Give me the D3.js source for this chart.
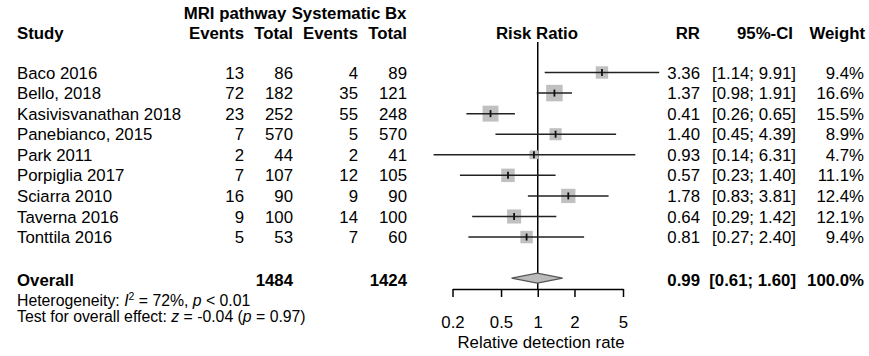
<!DOCTYPE html>
<html>
<head>
<meta charset="utf-8">
<script src="https://cdn.jsdelivr.net/npm/d3@7"></script>
<style>
  body { margin: 0; background: #fff; }
  svg { font-family: "Liberation Sans", Arial, sans-serif; }
</style>
</head>
<body>
<div id="chart"></div>
<script>
// study data
const studies   = ["Baco 2016", "Bello, 2018", "Kasivisvanathan 2018", "Panebianco, 2015", "Park 2011",
                   "Porpiglia 2017", "Sciarra 2010", "Taverna 2016", "Tonttila 2016"];
const mriEvents = [13, 72, 23, 7, 2, 7, 16, 9, 5];
const mriTotal  = [86, 182, 252, 570, 44, 107, 90, 100, 53];
const sysEvents = [4, 35, 55, 5, 2, 12, 9, 14, 7];
const sysTotal  = [89, 121, 248, 570, 41, 105, 90, 100, 60];
const rr        = [3.36, 1.37, 0.41, 1.40, 0.93, 0.57, 1.78, 0.64, 0.81];
const ciLow     = [1.14, 0.98, 0.26, 0.45, 0.14, 0.23, 0.83, 0.29, 0.27];
const ciHigh    = [9.91, 1.91, 0.65, 4.39, 6.31, 1.40, 3.81, 1.42, 2.40];
const weight    = [9.4, 16.6, 15.5, 8.9, 4.7, 11.1, 12.4, 12.1, 9.4];

// pooled result
const overall = { rr: 0.99, lo: 0.61, hi: 1.60, weight: 100.0, mriTotal: 1484, sysTotal: 1424 };
const tickValues = [0.2, 0.5, 1, 2, 5];

const W = 869, H = 356;
const fs = 16.8;
const fsSmall = 15.8;
const fmt2 = d3.format(".2f");
const fmtW = d3.format(".1f");

const svg = d3.select("#chart").append("svg")
  .attr("width", W).attr("height", H);

// scales
const x = d3.scaleLog().domain([0.2, 5]).range([452.5, 623]);
const rowY = d3.scaleLinear().domain([0, 10]).range([72.5, 278.2]); // row 10 = overall
const boxSize = d3.scaleSqrt().domain([0, 16.6]).range([0, 16.5]);

// column positions (right edges for numbers)
const col = { study: 17, mriEv: 244, mriTot: 293, sysEv: 358, sysTot: 407, rr: 700, ci: 796, w: 864 };

function txt(xp, yp, s, anchor, bold, size) {
  return svg.append("text")
    .attr("x", xp).attr("y", yp)
    .attr("dy", "0.36em")
    .attr("text-anchor", anchor || "start")
    .attr("font-weight", bold ? "bold" : "normal")
    .attr("font-size", size || fs)
    .attr("fill", "#000")
    .text(s);
}

// headers
txt(235, 13, "MRI pathway", "middle", true);
txt(349, 13, "Systematic Bx", "middle", true);
txt(col.study, 33, "Study", "start", true);
txt(col.mriEv, 33, "Events", "end", true);
txt(col.mriTot, 33, "Total", "end", true);
txt(col.sysEv, 33, "Events", "end", true);
txt(col.sysTot, 33, "Total", "end", true);
txt(537, 33, "Risk Ratio", "middle", true);
txt(col.rr, 33, "RR", "end", true);
txt(793, 33, "95%-CI", "end", true);
txt(col.w + 1, 33, "Weight", "end", true);

// study rows text
studies.forEach((s, i) => {
  const y = rowY(i);
  txt(col.study, y, s);
  txt(col.mriEv, y, mriEvents[i], "end");
  txt(col.mriTot, y, mriTotal[i], "end");
  txt(col.sysEv, y, sysEvents[i], "end");
  txt(col.sysTot, y, sysTotal[i], "end");
  txt(col.rr, y, fmt2(rr[i]), "end");
  txt(col.ci, y, `[${fmt2(ciLow[i])}; ${fmt2(ciHigh[i])}]`, "end");
  txt(col.w, y, fmtW(weight[i]) + "%", "end");
});

// overall row text
const yo = rowY(10) + 2;
txt(col.study, yo, "Overall", "start", true);
txt(col.mriTot, yo, overall.mriTotal, "end", true);
txt(col.sysTot, yo, overall.sysTotal, "end", true);
txt(col.rr, yo, fmt2(overall.rr), "end", true);
txt(col.ci, yo, `[${fmt2(overall.lo)}; ${fmt2(overall.hi)}]`, "end", true);
txt(col.w, yo, fmtW(overall.weight) + "%", "end", true);

// heterogeneity lines
const het = svg.append("text").attr("x", col.study).attr("y", 300).attr("dy", "0.36em")
  .attr("font-size", fsSmall);
het.append("tspan").text("Heterogeneity: ");
het.append("tspan").attr("font-style", "italic").text("I");
het.append("tspan").attr("font-size", 10.5).attr("dy", -6).text("2");
het.append("tspan").attr("dy", 6).text(" = 72%, ");
het.append("tspan").attr("font-style", "italic").text("p");
het.append("tspan").text(" < 0.01");

const tst = svg.append("text").attr("x", col.study).attr("y", 316).attr("dy", "0.36em")
  .attr("font-size", fsSmall);
tst.append("tspan").text("Test for overall effect: ");
tst.append("tspan").attr("font-style", "italic").text("z");
tst.append("tspan").text(" = -0.04 (");
tst.append("tspan").attr("font-style", "italic").text("p");
tst.append("tspan").text(" = 0.97)");

// reference line at 1
svg.append("line")
  .attr("x1", x(1)).attr("x2", x(1))
  .attr("y1", 42).attr("y2", 289)
  .attr("stroke", "#000").attr("stroke-width", 1.5);

const g = svg.append("g");

// weight squares (drawn under the CI lines)
g.selectAll("rect.box")
  .data(studies)
  .enter().append("rect")
  .attr("class", "box")
  .attr("x", (d, i) => x(rr[i]) - boxSize(weight[i]) / 2)
  .attr("y", (d, i) => rowY(i) - boxSize(weight[i]) / 2)
  .attr("width", (d, i) => boxSize(weight[i]))
  .attr("height", (d, i) => boxSize(weight[i]))
  .attr("fill", "#c0c0c0");

// CI lines
g.selectAll("line.ci")
  .data(studies)
  .enter().append("line")
  .attr("class", "ci")
  .attr("x1", (d, i) => x(ciLow[i]))
  .attr("x2", (d, i) => x(ciHigh[i]))
  .attr("y1", (d, i) => rowY(i))
  .attr("y2", (d, i) => rowY(i))
  .attr("stroke", "#222").attr("stroke-width", 1.5);

// point estimate ticks
g.selectAll("line.est")
  .data(studies)
  .enter().append("line")
  .attr("class", "est")
  .attr("x1", (d, i) => x(rr[i]))
  .attr("x2", (d, i) => x(rr[i]))
  .attr("y1", (d, i) => rowY(i) - 3.5)
  .attr("y2", (d, i) => rowY(i) + 3.5)
  .attr("stroke", "#111").attr("stroke-width", 1.8);

// overall diamond
const yd = rowY(10);
svg.append("path")
  .attr("d", `M${x(overall.lo)},${yd} L${x(overall.rr)},${yd - 5} L${x(overall.hi)},${yd} L${x(overall.rr)},${yd + 5} Z`)
  .attr("fill", "#bbbbbb")
  .attr("stroke", "#555")
  .attr("stroke-width", 1.3);

// x axis
const axis = svg.append("g")
  .attr("transform", "translate(0,289)")
  .call(d3.axisBottom(x).tickValues(tickValues).tickFormat(d3.format("")).tickSize(8).tickSizeOuter(0).tickPadding(19));
axis.select(".domain").attr("stroke", "#000").attr("stroke-width", 1.5);
axis.selectAll(".tick line").attr("stroke", "#000").attr("stroke-width", 1.5);
axis.selectAll(".tick text")
  .attr("font-size", fs)
  .attr("font-family", "Liberation Sans, Arial, sans-serif")
  .attr("fill", "#000");

txt(541, 342, "Relative detection rate", "middle");
</script>
</body>
</html>
